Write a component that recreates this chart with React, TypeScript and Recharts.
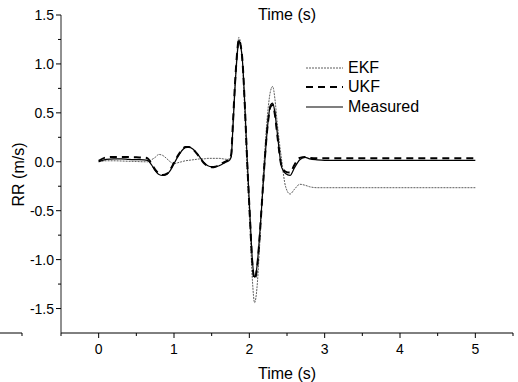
import React from "react";
import { LineChart, Line, XAxis, YAxis, Legend } from "recharts";

// time (s)
const time = [
  0, 0.1, 0.2, 0.3, 0.4, 0.5, 0.6, 0.65, 0.7, 0.75,
  0.8, 0.85, 0.9, 0.95, 1.0, 1.05, 1.1, 1.15, 1.2, 1.25,
  1.3, 1.35, 1.4, 1.45, 1.5, 1.55, 1.6, 1.65, 1.7, 1.74,
  1.76, 1.78, 1.81, 1.84, 1.86, 1.88, 1.91, 1.94, 1.97, 2.01,
  2.04, 2.07, 2.1, 2.13, 2.16, 2.2, 2.25, 2.28, 2.31, 2.34,
  2.37, 2.43, 2.48, 2.54, 2.6, 2.67, 2.74, 2.8, 2.9, 3.0,
  4.0, 5.0,
];

// RR (m/s)
const measured = [
  0, 0.025, 0.03, 0.03, 0.025, 0.022, 0.02, 0.015, -0.03, -0.09,
  -0.13, -0.14, -0.13, -0.09, -0.02, 0.05, 0.11, 0.145, 0.15, 0.13,
  0.09, 0.04, -0.01, -0.04, -0.05, -0.05, -0.04, -0.02, 0.0, 0.02,
  0.05, 0.32, 0.76, 1.1, 1.24, 1.2, 1.02, 0.59, 0.05, -0.57,
  -1.0, -1.18, -1.08, -0.82, -0.5, -0.05, 0.42, 0.58, 0.6, 0.5,
  0.3, -0.06, -0.12, -0.14, -0.06, 0.02, 0.045, 0.03, 0.02, 0.015,
  0.015, 0.015,
];

const ukf = [
  0.01, 0.045, 0.05, 0.05, 0.048, 0.045, 0.043, 0.035, -0.02, -0.08,
  -0.12, -0.135, -0.125, -0.08, -0.01, 0.06, 0.115, 0.15, 0.15, 0.13,
  0.085, 0.035, -0.015, -0.045, -0.055, -0.05, -0.035, -0.01, 0.01, 0.03,
  0.08, 0.36, 0.8, 1.13, 1.25, 1.21, 1.02, 0.58, 0.03, -0.6,
  -1.04, -1.2, -1.1, -0.84, -0.5, -0.03, 0.42, 0.56, 0.58, 0.48,
  0.28, -0.05, -0.1, -0.11, -0.03, 0.04, 0.05, 0.04, 0.035, 0.035,
  0.035, 0.035,
];

const ekf = [
  0, 0.01, 0.01, 0.008, 0.005, 0.003, 0.0, 0.0, 0.02, 0.045,
  0.075, 0.065, 0.035, 0.0, -0.02, -0.01, 0.0, 0.01, 0.015, 0.02,
  0.025, 0.03, 0.03, 0.035, 0.035, 0.035, 0.035, 0.03, 0.025, 0.03,
  0.06, 0.34, 0.8, 1.14, 1.27, 1.23, 1.0, 0.5, -0.05, -0.7,
  -1.2, -1.44, -1.3, -0.95, -0.5, 0.05, 0.55, 0.72, 0.77, 0.64,
  0.4, 0.01, -0.25, -0.33, -0.28, -0.23, -0.24, -0.255, -0.265, -0.265,
  -0.265, -0.265,
];

const xTicks = [-0.5, 0, 0.5, 1, 1.5, 2, 2.5, 3, 3.5, 4, 4.5, 5, 5.5];
const yTicks = [-1.5, -1.25, -1, -0.75, -0.5, -0.25, 0, 0.25, 0.5, 0.75, 1, 1.25, 1.5];

const SERIES = [
  { key: "ekf", name: "EKF", stroke: "#333", width: 0.8, dash: "2 1" },
  { key: "ukf", name: "UKF", stroke: "#000", width: 2, dash: "7 5" },
  { key: "measured", name: "Measured", stroke: "#000", width: 1.2, dash: undefined },
];

const data = time.map((t, i) => ({
  t,
  measured: measured[i],
  ukf: ukf[i],
  ekf: ekf[i],
}));

const FONT = '"Liberation Sans", Arial, sans-serif';

function XTick({ x, y, payload }: any) {
  const v = payload.value;
  const major = Number.isInteger(v);
  return (
    <g>
      <line x1={x} x2={x} y1={y} y2={y + (major ? 5 : 3)} stroke="#000" />
      {major && (
        <text x={x} y={y + 21} textAnchor="middle" fontSize={14} fill="#000">
          {v}
        </text>
      )}
    </g>
  );
}

function YTick({ x, y, payload }: any) {
  const v = payload.value;
  const major = Math.abs(v * 2 - Math.round(v * 2)) < 1e-9;
  return (
    <g>
      <line x1={x - (major ? 5 : 3)} x2={x} y1={y} y2={y} stroke="#000" />
      {major && (
        <text x={x - 7} y={y + 5} textAnchor="end" fontSize={14} fill="#000">
          {v.toFixed(1)}
        </text>
      )}
    </g>
  );
}

const renderLegend = () => (
  <div style={{ fontSize: 16, color: "#000", fontFamily: FONT }}>
    {SERIES.map((s) => (
      <div key={s.key} style={{ display: "flex", alignItems: "center", height: 19.5 }}>
        <svg width={40} height={10}>
          <line
            x1={1}
            x2={38}
            y1={5}
            y2={5}
            stroke={s.stroke}
            strokeWidth={s.width}
            strokeDasharray={s.dash}
          />
        </svg>
        <span style={{ marginLeft: 3 }}>{s.name}</span>
      </div>
    ))}
  </div>
);

export default function App() {
  return (
    <div
      style={{
        position: "absolute",
        left: 0,
        top: 0,
        width: 518,
        height: 382,
        background: "#fff",
        fontFamily: FONT,
      }}
    >
      <LineChart
        width={518}
        height={382}
        data={data}
        margin={{ top: 15, right: 5, bottom: 0, left: 0 }}
      >
        <XAxis
          dataKey="t"
          type="number"
          domain={[-0.5, 5.5]}
          ticks={xTicks}
          interval={0}
          height={49}
          tickLine={false}
          tickSize={0}
          tickMargin={0}
          axisLine={{ stroke: "#000" }}
          tick={<XTick />}
          allowDataOverflow
        />
        <YAxis
          type="number"
          domain={[-1.75, 1.5]}
          ticks={yTicks}
          interval={0}
          width={61}
          tickLine={false}
          tickSize={0}
          tickMargin={0}
          axisLine={{ stroke: "#222" }}
          tick={<YTick />}
          allowDataOverflow
        />
        <Legend
          verticalAlign="middle"
          align="center"
          content={renderLegend}
          wrapperStyle={{ position: "absolute", left: 305, top: 58, width: 140 }}
        />
        {SERIES.map((s) => (
          <Line
            key={s.key}
            dataKey={s.key}
            name={s.name}
            type="monotone"
            stroke={s.stroke}
            strokeWidth={s.width}
            strokeDasharray={s.dash}
            dot={false}
            activeDot={false}
            isAnimationActive={false}
          />
        ))}
        <text x={287} y={19.5} textAnchor="middle" fontSize={16} fill="#000">
          Time (s)
        </text>
        <text x={287} y={379} textAnchor="middle" fontSize={16} fill="#000">
          Time (s)
        </text>
        <text
          x={23.5}
          y={174.5}
          textAnchor="middle"
          fontSize={16}
          fill="#000"
          transform="rotate(-90 23.5 174.5)"
        >
          RR (m/s)
        </text>
        <line x1={0} x2={22} y1={333} y2={333} stroke="#000" />
        <line x1={22} x2={22} y1={333} y2={336} stroke="#000" />
      </LineChart>
    </div>
  );
}
